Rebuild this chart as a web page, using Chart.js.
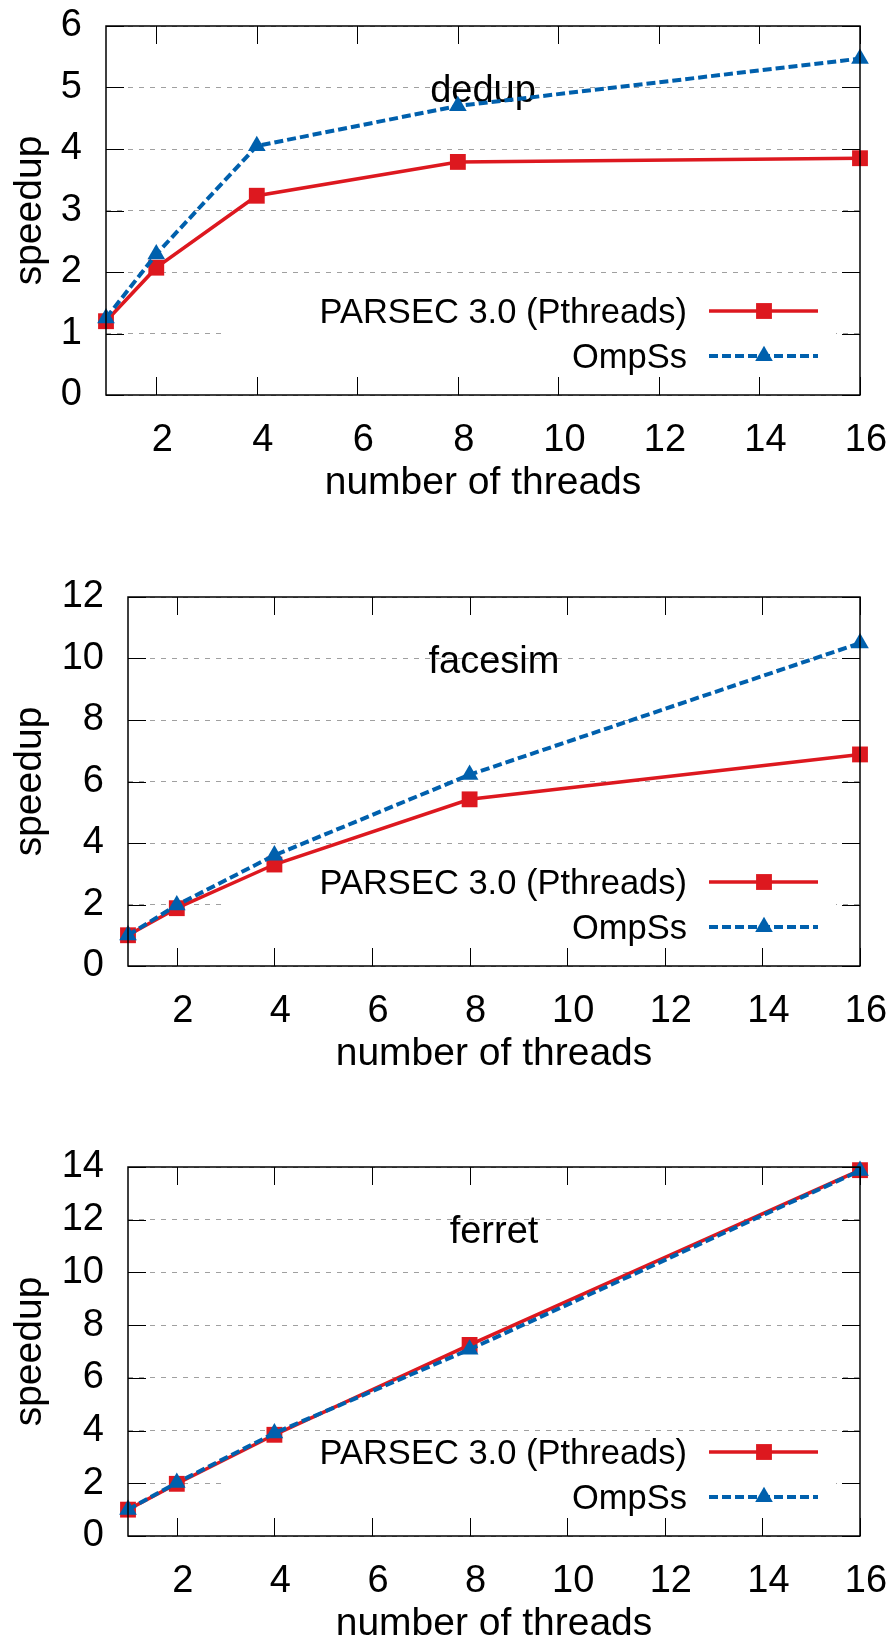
<!DOCTYPE html>
<html>
<head>
<meta charset="utf-8">
<script src="https://cdn.jsdelivr.net/npm/chart.js@4.4.1/dist/chart.umd.min.js"></script>
<style>
  html, body { margin: 0; padding: 0; background: #fff; }
  body { width: 891px; height: 1642px; overflow: hidden; position: relative; }
  .panel { position: absolute; left: 0; width: 891px; height: 570px; }
</style>
</head>
<body>
<div class="panel" style="top:0px"><canvas id="c0" width="891" height="570"></canvas></div>
<div class="panel" style="top:571px"><canvas id="c1" width="891" height="570"></canvas></div>
<div class="panel" style="top:1141px"><canvas id="c2" width="891" height="570"></canvas></div>
<script>
// values
const threads = [1, 2, 4, 8, 16];
const xTickValues = [2, 4, 6, 8, 10, 12, 14, 16];
const seriesNames = ['PARSEC 3.0 (Pthreads)', 'OmpSs'];
const panelNames = ['dedup', 'facesim', 'ferret'];

const dedupPthreads = [1.2, 2.07, 3.24, 3.79, 3.85];
const dedupOmpss = [1.25, 2.29, 4.05, 4.70, 5.47];
const facesimPthreads = [1.0, 1.88, 3.3, 5.42, 6.88];
const facesimOmpss = [1.0, 1.98, 3.6, 6.22, 10.5];
const ferretPthreads = [1.0, 1.98, 3.84, 7.25, 13.88];
const ferretOmpss = [1.0, 2.02, 3.9, 7.08, 13.86];

const yMaxes = [6, 12, 14];
const ySteps = [1, 2, 2];

const RED = '#dd181f';
const BLUE = '#0060ad';
const FONT = "'Liberation Sans', Arial, sans-serif";

Chart.defaults.font.family = FONT;
Chart.defaults.color = '#000';

function marker(ctx, style, x, y, r) {
  ctx.beginPath();
  if (style === 'rect') {
    const s = r * Math.SQRT1_2;
    ctx.rect(x - s, y - s, 2 * s, 2 * s);
  } else {
    for (let k = 0; k < 3; k++) {
      const a = k * 2 * Math.PI / 3;
      ctx.lineTo(x + Math.sin(a) * r, y - Math.cos(a) * r);
    }
    ctx.closePath();
  }
  ctx.fill();
}

// gnuplot-like frame, inward ticks, panel label and key
const gnuplotLook = {
  id: 'gnuplotLook',
  beforeDatasetsDraw(chart, args, opts) {
    const ctx = chart.ctx;
    const a = chart.chartArea;
    ctx.save();
    // opaque key box
    ctx.fillStyle = '#fff';
    ctx.fillRect(a.right - 633, a.top + 267, 609, 85);

    // panel name
    ctx.fillStyle = '#000';
    ctx.font = '38px ' + FONT;
    ctx.textAlign = 'center';
    ctx.textBaseline = 'middle';
    ctx.fillText(opts.name, (a.left + a.right) / 2, a.top + 66);

    // key entries
    ctx.font = '34.5px ' + FONT;
    ctx.textAlign = 'right';
    ctx.textBaseline = 'alphabetic';
    chart.data.datasets.forEach((ds, i) => {
      const ly = a.top + 285 + i * 45;
      ctx.fillStyle = '#000';
      ctx.fillText(ds.label, a.right - 173, ly + 12);
      ctx.strokeStyle = ds.borderColor;
      ctx.lineWidth = ds.borderWidth;
      ctx.setLineDash(ds.borderDash || []);
      ctx.beginPath();
      ctx.moveTo(a.right - 151, ly);
      ctx.lineTo(a.right - 42, ly);
      ctx.stroke();
      ctx.setLineDash([]);
      ctx.fillStyle = ds.backgroundColor;
      marker(ctx, ds.pointStyle, a.right - 96, ly, ds.pointRadius);
    });
    ctx.restore();
  },
  afterDatasetsDraw(chart) {
    const ctx = chart.ctx;
    const a = chart.chartArea;
    const xs = chart.scales.x;
    const ys = chart.scales.y;
    const tl = 18;
    ctx.save();
    ctx.strokeStyle = '#000';
    ctx.lineWidth = 1;
    ctx.beginPath();
    xs.ticks.forEach(t => {
      const px = Math.round(xs.getPixelForValue(t.value)) + 0.5;
      ctx.moveTo(px, a.bottom); ctx.lineTo(px, a.bottom - tl);
      ctx.moveTo(px, a.top); ctx.lineTo(px, a.top + tl);
    });
    ys.ticks.forEach(t => {
      const py = Math.round(ys.getPixelForValue(t.value)) + 0.5;
      ctx.moveTo(a.left, py); ctx.lineTo(a.left + tl, py);
      ctx.moveTo(a.right, py); ctx.lineTo(a.right - tl, py);
    });
    ctx.stroke();
    ctx.lineWidth = 1.5;
    ctx.strokeRect(a.left, a.top, a.right - a.left, a.bottom - a.top);
    ctx.restore();
  }
};

function makePanel(id, name, pth, omp, yMax, yStep, plotLeft) {
  const canvas = document.getElementById(id);
  return new Chart(canvas, {
    type: 'line',
    data: {
      datasets: [{
        label: seriesNames[0],
        data: threads.map((t, i) => ({ x: t, y: pth[i] })),
        borderColor: RED,
        backgroundColor: RED,
        borderWidth: 3.5,
        pointStyle: 'rect',
        pointRadius: 11.2,
        pointHoverRadius: 11.2,
        pointBorderWidth: 0,
        tension: 0,
        clip: false,
        order: 2
      }, {
        label: seriesNames[1],
        data: threads.map((t, i) => ({ x: t, y: omp[i] })),
        borderColor: BLUE,
        backgroundColor: BLUE,
        borderWidth: 4,
        borderDash: [9, 4],
        pointStyle: 'triangle',
        pointRadius: 10.2,
        pointHoverRadius: 10.2,
        pointBorderWidth: 0,
        tension: 0,
        clip: false,
        order: 1
      }]
    },
    options: {
      responsive: false,
      animation: false,
      events: [],
      layout: { padding: { top: 26, right: 31, bottom: 0, left: 0 } },
      plugins: {
        legend: { display: false },
        tooltip: { enabled: false },
        gnuplotLook: { name: name }
      },
      scales: {
        x: {
          type: 'linear',
          min: 1,
          max: 16,
          afterBuildTicks: s => { s.ticks = xTickValues.map(v => ({ value: v })); },
          afterFit: s => { s.height = 175; s.paddingLeft = 0; s.paddingRight = 0; },
          grid: { display: false, drawTicks: false },
          border: { display: false },
          ticks: { font: { size: 38 }, padding: 23, labelOffset: 6, maxRotation: 0, autoSkip: false },
          title: { display: true, text: 'number of threads', font: { size: 39 }, padding: { top: 0, bottom: 63 } }
        },
        y: {
          type: 'linear',
          min: 0,
          max: yMax,
          afterFit: s => { s.width = plotLeft; s.paddingTop = 0; s.paddingBottom = 0; },
          grid: { color: '#a0a0a0', lineWidth: 1, drawTicks: false },
          border: { display: false, dash: [5, 6] },
          ticks: { stepSize: yStep, font: { size: 38 }, padding: 24 },
          title: { display: true, text: 'speedup', font: { size: 39 }, padding: { top: 7, bottom: 0 } }
        }
      }
    },
    plugins: [gnuplotLook]
  });
}

makePanel('c0', panelNames[0], dedupPthreads, dedupOmpss, yMaxes[0], ySteps[0], 106);
makePanel('c1', panelNames[1], facesimPthreads, facesimOmpss, yMaxes[1], ySteps[1], 128);
makePanel('c2', panelNames[2], ferretPthreads, ferretOmpss, yMaxes[2], ySteps[2], 128);
</script>
</body>
</html>
